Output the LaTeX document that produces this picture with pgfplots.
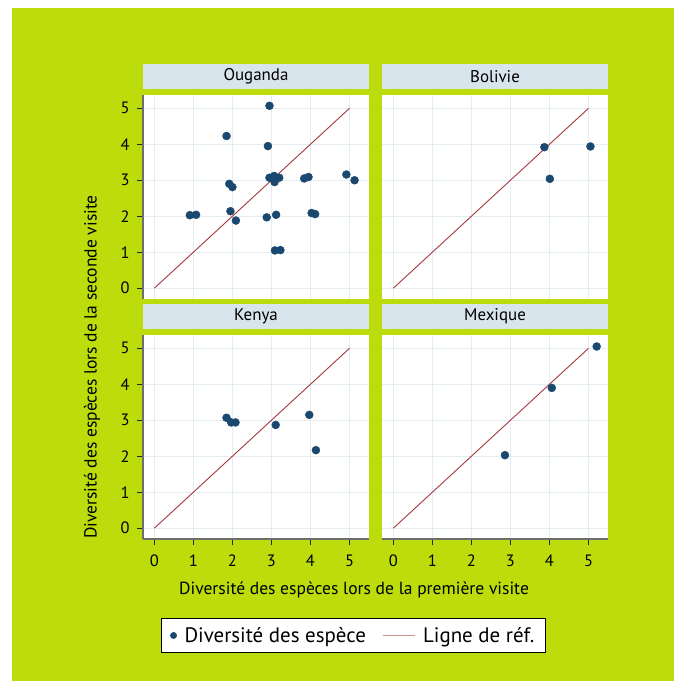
\documentclass[border=0pt]{standalone}
\usepackage{pgfplots}
\pgfplotsset{compat=1.18}
\usepackage{fontspec}
\setmainfont{PT Sans}

\definecolor{bggreen}{RGB}{188,220,12}
\definecolor{stripc}{RGB}{216,229,236}
\definecolor{gridc}{RGB}{228,237,242}
\definecolor{dotc}{RGB}{26,72,110}
\definecolor{refc}{RGB}{166,56,62}
\definecolor{axisc}{RGB}{110,110,110}

\pgfplotsset{
  panel/.style={
    scale only axis, width=226bp, height=204bp, anchor=south west,
    xmin=-0.29, xmax=5.5, ymin=-0.3, ymax=5.37,
    xtick={0,...,5}, ytick={0,...,5},
    grid=major, major grid style={gridc, line width=1bp},
    axis line style={draw=none},
    axis background/.style={fill=white},
    tick align=outside, major tick length=6bp,
    tick style={black!85, line width=0.9bp},
    xtick pos=bottom, ytick pos=left,
    ticklabel style={font=\fontsize{16.5}{16.5}\selectfont},
    yticklabel style={xshift=-4bp},
    xticklabel style={yshift=-6bp},
    /pgf/number format/assume math mode=true,
    title style={at={(0.5,1)}, anchor=south, fill=stripc,
      minimum width=226bp, minimum height=25bp, inner sep=0pt,
      font=\fontsize{17}{17}\selectfont},
    clip=false,
  },
  notx/.style={xticklabels={}, xtick style={draw=none}},
  noty/.style={yticklabels={}, ytick style={draw=none}},
  dots/.style={only marks, mark=*, mark size=4bp,
    mark options={fill=dotc, draw=dotc}},
  refl/.style={refc, line width=0.9bp, no marks},
}

\begin{document}
\begin{tikzpicture}
  \fill[white] (0bp,0bp) rectangle (680bp,681bp);
  \fill[bggreen] (12bp,0bp) rectangle (674bp,673bp);

  % Ouganda
  \begin{axis}[panel, notx, at={(143bp,382bp)}, title={Ouganda}]
    \addplot[dots] coordinates {
      (2.95,5.07) (1.85,4.23) (2.91,3.95) (2.95,3.07) (3.07,3.12)
      (3.20,3.07) (3.08,2.95) (3.84,3.05) (3.95,3.09) (4.92,3.16)
      (5.13,3.00) (1.92,2.90) (2.00,2.81) (0.91,2.03) (1.07,2.04)
      (1.95,2.14) (2.09,1.88) (2.88,1.97) (3.12,2.04) (4.03,2.09)
      (4.12,2.06) (3.09,1.05) (3.23,1.06)};
    \addplot[refl] coordinates {(0,0) (5,5)};
    \draw[axisc, line width=1.6bp] (rel axis cs:0,0) -- (rel axis cs:0,1);
  \end{axis}

  % Bolivie
  \begin{axis}[panel, notx, noty, at={(382bp,382bp)}, title={Bolivie}]
    \addplot[dots] coordinates {(3.87,3.92) (5.05,3.94) (4.01,3.04)};
    \addplot[refl] coordinates {(0,0) (5,5)};
  \end{axis}

  % Kenya
  \begin{axis}[panel, at={(143bp,142bp)}, title={Kenya},
      legend columns=2,
      legend style={at={(0.931,-0.473)}, anchor=center, draw=black,
        line width=0.8bp, fill=white, font=\fontsize{21}{21}\selectfont,
        inner xsep=9bp, inner ysep=7bp,
        /tikz/every odd column/.append style={column sep=6bp},
        /tikz/every even column/.append style={column sep=14bp}},
      legend cell align=left]
    \addplot[dots, legend image post style={mark size=3bp}] coordinates {
      (1.85,3.07) (1.97,2.94) (2.08,2.94) (3.11,2.87) (3.97,3.15) (4.14,2.17)};
    \addlegendentry{Diversité des espèce}
    \addplot[refl, legend image code/.code={
        \draw[refc!55, line width=1.2bp] (0bp,0bp) -- (32bp,0bp);}]
      coordinates {(0,0) (5,5)};
    \addlegendentry{Ligne de réf.}
    \draw[axisc, line width=1.6bp] (rel axis cs:0,0) -- (rel axis cs:0,1);
    \draw[axisc, line width=1.6bp] (rel axis cs:0,0) -- (rel axis cs:1,0);
  \end{axis}

  % Mexique
  \begin{axis}[panel, noty, at={(382bp,142bp)}, title={Mexique}]
    \addplot[dots] coordinates {(5.21,5.05) (4.06,3.90) (2.86,2.03)};
    \addplot[refl] coordinates {(0,0) (5,5)};
    \draw[axisc, line width=1.6bp] (rel axis cs:0,0) -- (rel axis cs:1,0);
  \end{axis}

  \node[font=\fontsize{17.6}{17.6}\selectfont] at (354bp,91bp)
    {Diversité des espèces lors de la première visite};
  \node[rotate=90, font=\fontsize{17.6}{17.6}\selectfont] at (92bp,314bp)
    {Diversité des espèces lors de la seconde visite};
\end{tikzpicture}
\end{document}
